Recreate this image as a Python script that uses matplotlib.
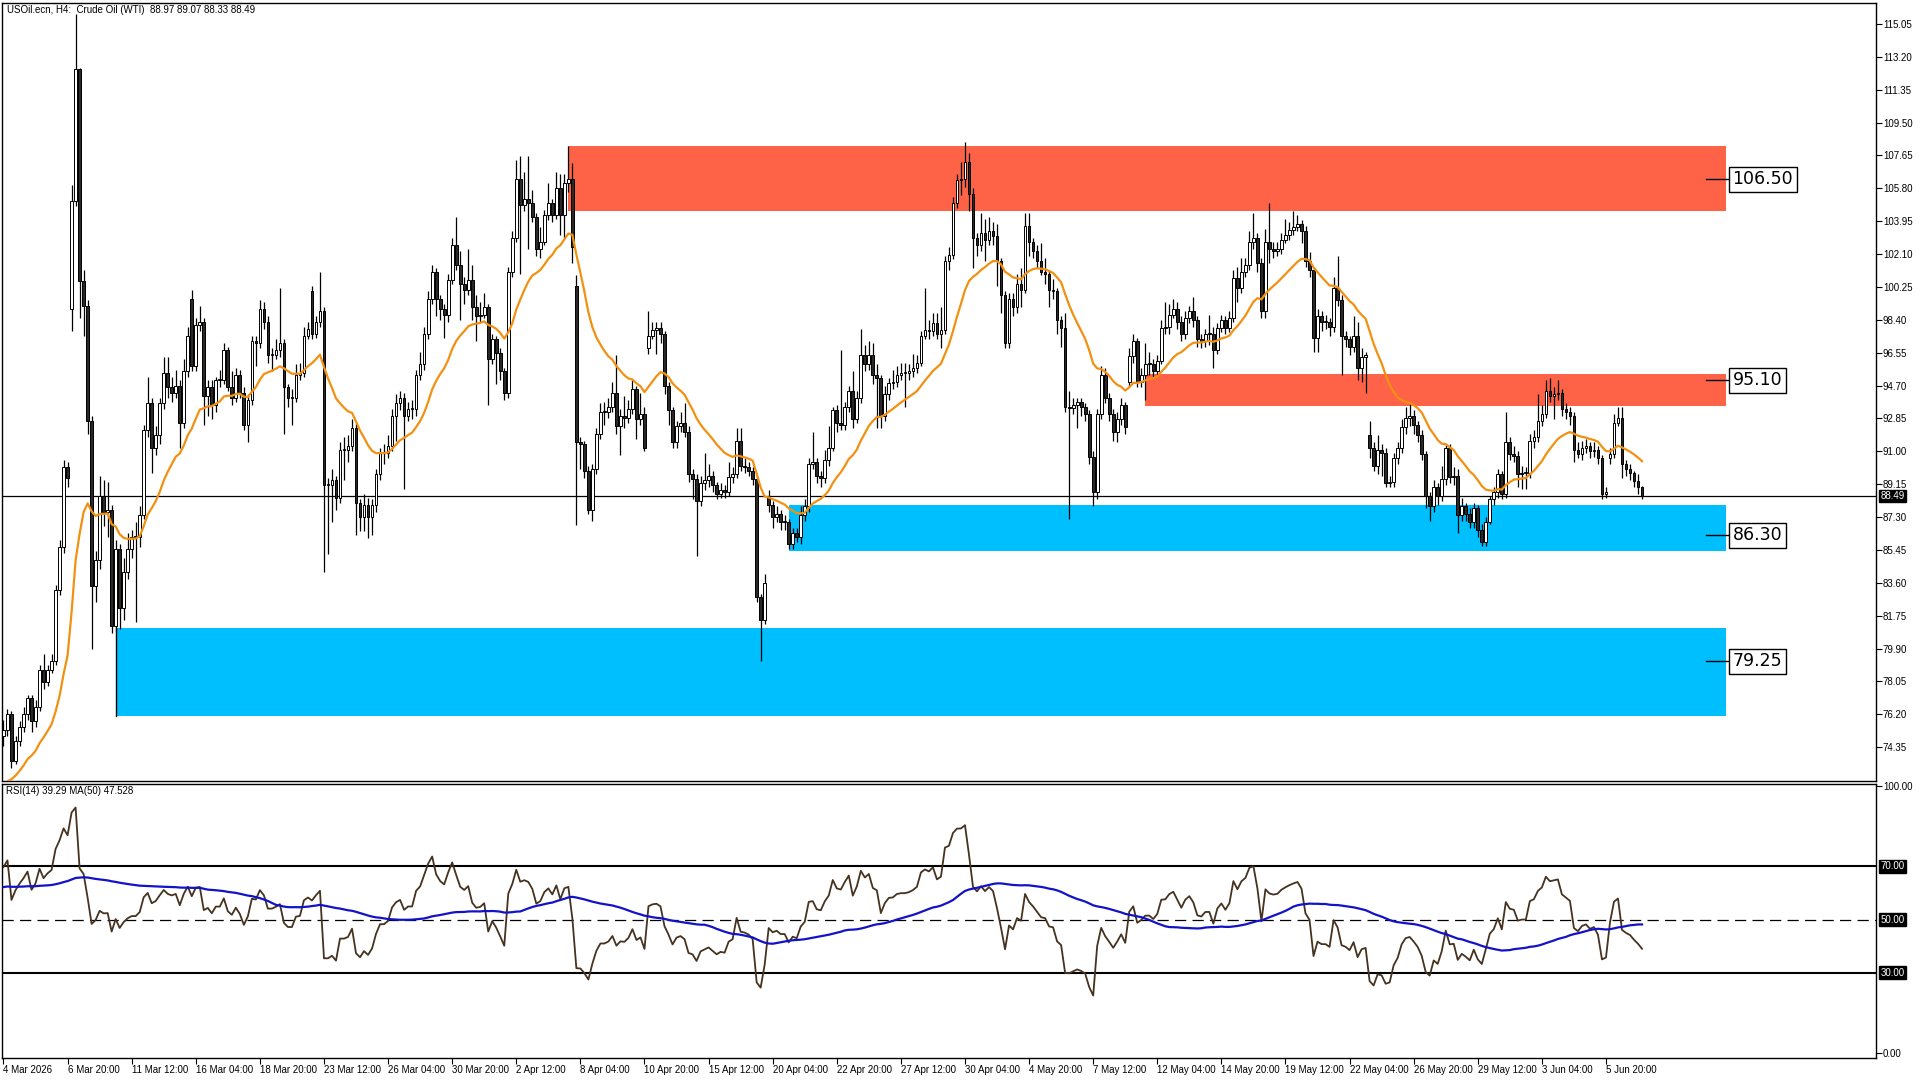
import numpy as np
import matplotlib
matplotlib.use("Agg")
import matplotlib.pyplot as plt
from matplotlib.transforms import blended_transform_factory

plt.rcParams['font.family'] = ['Liberation Sans', 'DejaVu Sans']

# ---------------- data (H4 bars) ----------------
first_open = 75.0
gap_opens = {17: 99.0, 47: 99.6, 77: 100.0, 143: 100.3, 161: 96.8,
             191: 88.5, 281: 94.9, 341: 91.9, 401: 90.6}

closes = [
    75.3, 76.2, 73.6, 74.7, 75.5, 76.2, 77.1, 75.8, 76.6, 78.7,
    78.0, 78.7, 79.2, 83.2, 85.6, 90.1, 89.5, 105.1, 112.5, 100.6,
    99.2, 92.7, 83.4, 84.9, 88.5, 87.6, 87.7, 81.2, 85.5, 82.2,
    84.2, 85.5, 86.2, 86.2, 87.4, 92.2, 93.7, 91.2, 91.9, 93.7,
    95.4, 94.6, 94.3, 94.7, 92.6, 95.5, 97.5, 95.8, 98.1, 98.3,
    94.1, 94.6, 93.6, 95.0, 95.0, 96.7, 94.6, 94.0, 95.3, 94.3,
    92.5, 93.9, 97.2, 97.1, 99.0, 98.3, 96.4, 96.4, 96.7, 97.1,
    94.6, 94.0, 94.0, 95.3, 95.4, 97.5, 97.9, 97.6, 98.3, 98.9,
    89.1, 89.1, 89.4, 88.4, 91.1, 91.1, 91.3, 92.3, 88.1, 87.3,
    88.0, 87.3, 88.0, 89.7, 90.9, 90.9, 91.3, 93.0, 93.7, 94.0,
    93.0, 93.4, 93.4, 95.3, 95.9, 97.6, 99.6, 101.1, 99.6, 99.0,
    98.7, 100.65, 102.6, 101.5, 100.4, 100.1, 100.65, 99.1, 98.6, 98.7,
    99.1, 96.2, 97.3, 96.55, 95.5, 94.3, 101.1, 103.0, 106.35, 104.85,
    105.2, 105.0, 104.2, 102.4, 102.8, 104.3, 104.95, 104.3, 105.8, 104.3,
    106.1, 106.35, 102.5, 91.5, 91.4, 89.9, 87.7, 90.0, 92.0, 93.2,
    93.2, 93.5, 94.3, 92.4, 93.0, 92.9, 93.4, 94.5, 92.8, 93.1,
    91.2, 97.5, 97.85, 97.95, 97.6, 94.7, 93.3, 91.5, 92.4, 92.6,
    92.1, 89.7, 89.45, 88.2, 89.2, 89.4, 89.6, 89.1, 88.6, 88.8,
    88.7, 89.55, 89.75, 91.6, 90.2, 90.1, 89.9, 89.45, 82.8, 81.5,
    83.6, 88.0, 87.3, 87.5, 87.0, 87.0, 85.8, 86.4, 86.2, 87.4,
    87.9, 90.3, 90.4, 89.6, 89.5, 90.5, 91.2, 93.3, 92.6, 92.5,
    93.5, 94.4, 92.8, 94.0, 96.45, 95.9, 96.45, 95.3, 95.1, 93.0,
    94.2, 94.85, 94.9, 95.3, 95.4, 95.4, 95.5, 95.7, 96.0, 97.5,
    97.85, 97.75, 98.2, 97.6, 97.85, 101.7, 102.05, 104.95, 106.25, 106.3,
    107.3, 105.5, 103.0, 102.6, 103.3, 102.9, 103.4, 103.1, 101.7, 99.8,
    97.1, 99.6, 99.1, 100.4, 100.1, 103.7, 102.8, 102.3, 101.7, 101.1,
    101.0, 100.1, 100.0, 98.4, 97.95, 93.5, 93.45, 93.6, 93.75, 93.5,
    93.1, 90.7, 88.7, 93.1, 95.3, 94.0, 93.1, 92.1, 92.8, 93.6,
    92.35, 96.35, 97.2, 94.9, 95.3, 95.9, 95.9, 95.5, 96.1, 97.95,
    98.0, 98.7, 99.0, 98.3, 97.6, 98.5, 98.9, 98.4, 97.3, 97.2,
    97.6, 97.6, 96.7, 97.95, 98.4, 97.95, 98.5, 100.75, 100.2, 101.1,
    101.5, 102.8, 103.0, 101.6, 98.9, 102.8, 102.4, 102.3, 102.4, 102.9,
    103.2, 103.45, 103.65, 103.8, 103.4, 101.7, 101.2, 97.4, 98.6, 98.3,
    98.3, 98.0, 100.2, 99.5, 97.5, 97.3, 96.9, 97.5, 95.7, 96.3,
    96.4, 91.2, 90.2, 91.1, 90.9, 89.2, 89.3, 90.6, 91.2, 92.35,
    92.9, 93.0, 92.5, 91.9, 90.85, 88.5, 87.9, 89.0, 88.5, 89.45,
    91.2, 89.55, 89.6, 87.4, 87.9, 87.5, 87.0, 87.8, 86.55, 85.9,
    87.0, 88.3, 88.7, 89.7, 88.6, 91.5, 90.85, 90.75, 89.7, 89.8,
    89.8, 91.6, 91.8, 92.7, 93.1, 94.4, 94.1, 94.2, 94.3, 93.4,
    93.2, 93.0, 91.1, 90.85, 91.2, 91.3, 91.0, 91.1, 90.6, 88.6,
    88.7, 90.85, 92.6, 92.9, 90.3, 90.0, 89.8, 89.35, 88.97, 88.49,
]

highs = [
    75.9, 76.5, 76.4, 75.0, 75.8, 76.6, 77.3, 77.3, 77.0, 79.0,
    79.6, 79.0, 79.6, 83.5, 86.0, 90.5, 90.4, 106.0, 115.6, 112.6,
    101.2, 99.5, 93.0, 85.4, 89.6, 89.4, 89.3, 88.0, 86.0, 85.8,
    85.0, 86.4, 86.6, 87.0, 87.9, 92.5, 95.2, 94.0, 92.4, 94.0,
    96.3, 96.3, 95.2, 95.6, 95.0, 96.2, 98.0, 100.1, 98.5, 99.2,
    98.5, 95.0, 95.0, 95.2, 95.6, 97.1, 96.9, 95.5, 95.7, 95.6,
    94.6, 94.2, 97.5, 97.5, 99.5, 99.4, 98.6, 96.8, 97.3, 100.2,
    97.3, 94.8, 94.5, 95.9, 96.0, 98.0, 98.3, 100.3, 98.6, 101.1,
    99.1, 89.5, 90.0, 89.6, 91.5, 91.8, 91.9, 92.8, 92.6, 88.3,
    88.6, 88.4, 88.3, 90.0, 91.2, 91.4, 91.9, 93.4, 94.2, 94.4,
    94.3, 93.8, 93.9, 95.6, 96.6, 98.0, 100.0, 101.5, 101.3, 99.8,
    99.3, 101.0, 103.0, 104.2, 102.3, 100.8, 102.4, 101.5, 99.8, 99.4,
    99.9, 99.3, 97.6, 97.5, 96.8, 95.7, 101.4, 103.4, 107.4, 107.6,
    106.7, 107.6, 105.7, 104.4, 103.6, 104.6, 106.1, 105.2, 106.7, 106.6,
    106.6, 108.2, 107.2, 100.9, 91.8, 91.6, 90.2, 90.3, 92.3, 93.7,
    93.8, 94.0, 94.9, 96.4, 93.4, 94.1, 93.9, 95.0, 94.7, 94.3,
    93.5, 98.9, 98.3, 98.3, 98.3, 97.8, 94.9, 93.5, 92.7, 93.2,
    93.7, 92.4, 90.0, 89.7, 89.6, 90.9, 90.3, 89.9, 89.3, 89.2,
    89.1, 90.4, 90.1, 92.3, 92.3, 90.6, 90.4, 90.1, 89.6, 83.0,
    84.1, 88.8, 88.2, 87.9, 87.7, 87.4, 87.2, 86.7, 86.7, 87.9,
    88.3, 90.6, 92.1, 90.6, 89.9, 91.1, 92.4, 93.5, 93.6, 96.7,
    93.8, 94.7, 95.5, 94.4, 97.9, 97.0, 97.2, 97.1, 95.9, 95.3,
    94.7, 95.1, 95.6, 95.8, 96.0, 96.0, 95.9, 96.5, 96.4, 97.8,
    100.2, 98.4, 98.8, 98.8, 99.1, 102.0, 102.5, 105.3, 106.6, 107.3,
    108.4, 107.8, 105.8, 103.3, 104.4, 104.1, 104.2, 103.9, 103.8, 101.9,
    100.0, 99.9, 99.9, 101.0, 101.3, 104.4, 104.4, 103.0, 102.6, 102.7,
    101.9, 101.2, 100.7, 100.2, 98.6, 98.8, 94.4, 94.0, 94.0, 94.0,
    93.7, 93.3, 91.0, 93.4, 95.8, 95.7, 94.3, 93.4, 93.2, 94.0,
    93.8, 96.8, 97.6, 97.4, 95.7, 97.1, 96.6, 96.2, 96.4, 98.4,
    99.4, 99.3, 99.6, 99.4, 98.6, 98.9, 99.2, 99.7, 98.6, 97.6,
    97.9, 98.7, 98.0, 98.2, 98.7, 98.6, 98.9, 101.2, 101.4, 101.9,
    101.9, 103.4, 104.4, 103.3, 101.9, 103.5, 105.0, 102.8, 102.8, 103.3,
    104.1, 103.9, 104.5, 104.3, 104.0, 103.7, 102.2, 101.4, 99.0, 98.9,
    98.7, 98.5, 100.8, 102.0, 99.8, 97.8, 97.5, 98.6, 98.3, 96.8,
    96.6, 92.7, 91.5, 91.9, 91.4, 91.2, 89.6, 90.9, 91.5, 92.8,
    93.5, 93.7, 93.3, 92.7, 92.2, 91.0, 88.7, 89.4, 89.2, 90.2,
    91.4, 91.4, 90.1, 90.0, 88.4, 88.1, 87.8, 88.1, 88.0, 86.9,
    87.3, 88.5, 89.0, 90.0, 89.9, 93.2, 91.8, 91.3, 91.0, 90.2,
    90.1, 92.0, 92.2, 94.2, 93.6, 95.0, 95.1, 94.6, 95.0, 94.5,
    93.7, 93.5, 93.2, 91.5, 91.6, 91.7, 91.5, 91.5, 91.3, 90.8,
    89.0, 91.2, 93.1, 93.5, 93.5, 90.5, 90.3, 89.9, 89.7, 89.07,
]

lows = [
    74.4, 75.0, 73.2, 73.4, 74.4, 75.2, 75.9, 75.2, 75.5, 76.4,
    77.6, 77.8, 78.5, 79.0, 82.9, 85.3, 89.0, 97.8, 104.8, 98.5,
    97.5, 92.0, 79.9, 82.5, 84.4, 86.8, 86.2, 80.8, 80.9, 81.0,
    81.5, 83.8, 85.0, 81.4, 85.6, 87.2, 91.8, 89.8, 90.8, 91.4,
    93.4, 94.0, 93.8, 94.0, 91.2, 92.3, 95.2, 95.5, 95.5, 97.8,
    92.5, 93.0, 92.8, 93.2, 94.6, 94.8, 94.4, 93.6, 93.8, 94.0,
    92.2, 91.5, 93.6, 95.8, 96.8, 97.9, 96.0, 95.5, 96.2, 96.3,
    92.0, 93.5, 92.5, 93.8, 95.0, 95.2, 97.3, 97.3, 97.4, 98.0,
    84.2, 85.2, 87.0, 87.7, 88.1, 89.4, 90.4, 91.0, 86.3, 86.5,
    86.5, 86.1, 86.3, 87.6, 89.4, 90.3, 90.6, 91.0, 91.6, 93.3,
    88.9, 92.7, 92.8, 93.0, 95.0, 95.6, 97.3, 99.3, 98.6, 98.4,
    97.4, 98.3, 100.4, 101.2, 98.4, 99.3, 99.8, 98.4, 97.2, 98.3,
    98.5, 93.6, 95.9, 94.8, 95.0, 93.9, 94.0, 100.8, 102.8, 101.0,
    104.5, 102.4, 103.9, 102.0, 101.9, 102.6, 104.0, 103.9, 104.1, 103.2,
    103.0, 105.6, 101.6, 86.85, 90.0, 89.5, 87.5, 87.1, 89.7, 91.7,
    92.5, 92.9, 93.2, 92.0, 90.8, 92.3, 92.6, 93.1, 91.7, 92.5,
    91.0, 96.5, 97.3, 96.5, 97.1, 94.2, 92.5, 91.2, 91.2, 92.1,
    91.8, 89.3, 88.3, 85.1, 87.9, 88.8, 89.0, 88.7, 88.3, 88.4,
    88.4, 88.5, 89.2, 89.5, 89.9, 89.8, 89.6, 89.1, 82.5, 79.2,
    81.3, 87.6, 86.7, 87.0, 86.6, 86.6, 85.5, 85.5, 85.9, 85.8,
    87.1, 87.6, 90.0, 89.2, 89.0, 89.2, 90.2, 91.0, 92.1, 92.2,
    92.2, 93.2, 92.3, 92.6, 93.7, 95.5, 95.6, 94.8, 92.3, 92.3,
    92.7, 93.9, 94.5, 94.6, 95.0, 93.5, 95.0, 95.2, 95.4, 95.8,
    97.3, 97.3, 97.5, 97.3, 96.8, 97.6, 101.2, 101.8, 104.7, 105.4,
    105.9, 104.5, 101.3, 102.0, 102.3, 101.7, 102.6, 102.6, 100.3, 98.8,
    96.8, 96.8, 98.6, 98.8, 99.1, 99.9, 102.0, 101.9, 101.3, 100.9,
    100.4, 99.1, 99.6, 97.6, 96.9, 93.2, 87.2, 93.1, 92.3, 93.0,
    92.7, 90.3, 87.9, 88.3, 92.8, 93.7, 92.7, 91.6, 91.5, 92.5,
    92.0, 94.6, 96.0, 94.6, 94.6, 93.9, 95.3, 95.1, 95.3, 95.9,
    97.6, 97.6, 98.5, 97.9, 97.2, 97.3, 98.2, 98.0, 96.9, 96.8,
    96.9, 97.0, 95.7, 96.5, 97.7, 97.6, 97.7, 98.3, 99.4, 99.9,
    100.8, 101.2, 102.4, 101.1, 98.5, 98.5, 101.6, 101.9, 102.0, 102.1,
    102.7, 102.9, 103.2, 103.4, 102.7, 101.4, 100.8, 96.6, 96.6, 97.8,
    97.9, 97.5, 97.7, 99.2, 95.3, 96.9, 96.4, 96.6, 95.0, 94.9,
    94.3, 90.6, 89.9, 89.7, 89.6, 89.0, 89.0, 89.0, 90.3, 90.9,
    92.0, 92.4, 92.0, 91.5, 90.5, 87.8, 87.1, 87.6, 88.0, 88.2,
    89.1, 89.2, 89.1, 86.4, 87.1, 87.1, 86.7, 86.7, 86.2, 85.7,
    85.7, 86.9, 88.0, 88.4, 88.3, 88.4, 90.5, 90.4, 89.0, 88.9,
    88.9, 89.5, 91.2, 91.5, 92.4, 92.9, 93.8, 92.8, 93.9, 93.0,
    92.8, 92.5, 90.4, 90.6, 90.5, 90.9, 90.6, 90.7, 90.3, 88.3,
    88.4, 90.3, 90.6, 92.4, 89.5, 89.6, 89.4, 89.0, 88.6, 88.33,
]

ema_period = 20
ema_seed = 71.7
rsi_period = 14
rsi_seed_gain = 0.55
rsi_seed_loss = 0.25
rsi_ma_period = 50
rsi_ma_seed = 62.0

# zones
zone_low = [104.53, 93.55, 85.39, 76.11]
zone_high = [108.18, 95.35, 87.98, 81.06]
zone_start = [141, 285, 196, 28]
zone_end = 430
zone_colors = ['#FF6347', '#FF6347', '#00BFFF', '#00BFFF']
zone_labels = [106.50, 95.10, 86.30, 79.25]
zone_label_y = [106.30, 95.00, 86.27, 79.20]

last_price = 88.49
price_ticks = [74.35, 76.20, 78.05, 79.90, 81.75, 83.60, 85.45, 87.30, 89.15,
               91.00, 92.85, 94.70, 96.55, 98.40, 100.25, 102.10, 103.95,
               105.80, 107.65, 109.50, 111.35, 113.20, 115.05]
time_labels = ['4 Mar 2026', '6 Mar 20:00', '11 Mar 12:00', '16 Mar 04:00',
               '18 Mar 20:00', '23 Mar 12:00', '26 Mar 04:00', '30 Mar 20:00',
               '2 Apr 12:00', '8 Apr 04:00', '10 Apr 20:00', '15 Apr 12:00',
               '20 Apr 04:00', '22 Apr 20:00', '27 Apr 12:00', '30 Apr 04:00',
               '4 May 20:00', '7 May 12:00', '12 May 04:00', '14 May 20:00',
               '19 May 12:00', '22 May 04:00', '26 May 20:00', '29 May 12:00',
               '3 Jun 04:00', '5 Jun 20:00']
bars_per_label = 16
title_text = 'USOil.ecn, H4:  Crude Oil (WTI)  88.97 89.07 88.33 88.49'
rsi_text = 'RSI(14) 39.29 MA(50) 47.528'

# ---------------- derived series ----------------
c = np.array(closes, float)
h = np.array(highs, float)
l = np.array(lows, float)
n = len(c)
o = np.empty(n)
o[0] = first_open
o[1:] = c[:-1]
for k, v in gap_opens.items():
    o[k] = v
h = np.maximum(h, np.maximum(o, c))
l = np.minimum(l, np.minimum(o, c))
x = np.arange(n)

alpha = 2.0 / (ema_period + 1)
ema = np.empty(n)
prev = ema_seed
for i in range(n):
    prev = prev + alpha * (c[i] - prev)
    ema[i] = prev

rsi = np.empty(n)
ag, al = rsi_seed_gain, rsi_seed_loss
pc = first_open
for i in range(n):
    d = c[i] - pc
    pc = c[i]
    ag = (ag * (rsi_period - 1) + max(d, 0)) / rsi_period
    al = (al * (rsi_period - 1) + max(-d, 0)) / rsi_period
    rsi[i] = 100 - 100 / (1 + ag / al)
padded = np.concatenate([np.full(rsi_ma_period - 1, rsi_ma_seed), rsi])
rsi_ma = np.convolve(padded, np.ones(rsi_ma_period) / rsi_ma_period, 'valid')

# ---------------- figure ----------------
W, H = 1920, 1080
fig = plt.figure(figsize=(19.2, 10.8), dpi=100)
fig.patch.set_facecolor('white')


def frame(x0, y0, x1, y1):
    return [x0 / W, 1 - y1 / H, (x1 - x0) / W, (y1 - y0) / H]


ax = fig.add_axes(frame(2, 3, 1876, 781))
axr = fig.add_axes(frame(2, 784, 1876, 1058))
xlim = (-0.37, 467.4)

# zones
for lo, hi, st, col in zip(zone_low, zone_high, zone_start, zone_colors):
    ax.fill_between([st, zone_end], lo, hi, color=col, lw=0, zorder=1)
ax.plot([zone_start[3], zone_start[3]], [zone_low[3], zone_high[3]], color='black', lw=1, zorder=2)

# last price line
ax.axhline(last_price, color='black', lw=0.9, zorder=2)

# candles
up = c >= o
ax.vlines(x, l, h, color='black', lw=0.9, zorder=3)
bot = np.minimum(o, c)
bh = np.maximum(np.abs(c - o), 0.06)
ax.bar(x[up], bh[up], bottom=bot[up], width=0.68, color='white', edgecolor='black', linewidth=0.7, zorder=4)
ax.bar(x[~up], bh[~up], bottom=bot[~up], width=0.68, color='#2b2724', edgecolor='black', linewidth=0.7, zorder=4)

# EMA
ax.plot(x, ema, color='#F29111', lw=1.6, zorder=5)

# zone labels
for val, yv in zip(zone_labels, zone_label_y):
    ax.plot([425.0, 430.8], [yv, yv], color='black', lw=1, zorder=6)
    ax.text(431.6, yv, f'{val:.2f}', ha='left', va='center', fontsize=12.5,
            family='DejaVu Sans', color='black', zorder=7,
            bbox=dict(boxstyle='square,pad=0.2', fc='white', ec='black', lw=1))

ax.set_xlim(*xlim)
ax.set_ylim(72.45, 116.23)
ax.set_xticks([])
ax.yaxis.tick_right()
ax.set_yticks(price_ticks)
ax.set_yticklabels([f'{t:.2f}' for t in price_ticks])
ax.tick_params(axis='y', direction='out', length=4, width=0.8, pad=1, labelsize=7, colors='black')
for sp in ax.spines.values():
    sp.set_color('black')
    sp.set_linewidth(1)

trans = blended_transform_factory(ax.transAxes, ax.transData)
ax.text(1.0025, last_price, f'{last_price:.2f}', transform=trans, ha='left', va='center',
        fontsize=7, color='white', zorder=10,
        bbox=dict(boxstyle='square,pad=0.15', fc='black', ec='black'))

# ---------------- RSI panel ----------------
axr.plot(x, rsi, color='#45321f', lw=1.3, zorder=3)
axr.plot(x, rsi_ma, color='#1212c8', lw=1.6, zorder=4)
axr.axhline(70, color='black', lw=1.5, zorder=2)
axr.axhline(30, color='black', lw=1.5, zorder=2)
axr.axhline(50, color='black', lw=0.9, ls=(0, (9, 5)), zorder=2)
axr.set_xlim(*xlim)
axr.set_ylim(-1.87, 100.75)
axr.yaxis.tick_right()
axr.set_yticks([0, 100])
axr.set_yticklabels(['0.00', '100.00'])
axr.tick_params(axis='y', direction='out', length=4, width=0.8, pad=1, labelsize=7)
tr2 = blended_transform_factory(axr.transAxes, axr.transData)
for lev in (70, 50, 30):
    axr.text(1.0025, lev, f'{lev:.2f}', transform=tr2, ha='left', va='center', fontsize=7,
             color='white', bbox=dict(boxstyle='square,pad=0.15', fc='black', ec='black'))
axr.set_xticks([bars_per_label * k for k in range(len(time_labels))])
axr.set_xticklabels(time_labels)
axr.tick_params(axis='x', direction='out', length=4, width=0.8, pad=1, labelsize=7)
for lbl in axr.get_xticklabels():
    lbl.set_horizontalalignment('left')
for sp in axr.spines.values():
    sp.set_color('black')
    sp.set_linewidth(1)

fig.text(7 / W, 1 - 10 / H, title_text, fontsize=7, va='center', ha='left')
fig.text(6 / W, 1 - 791 / H, rsi_text, fontsize=7, va='center', ha='left')

fig.savefig('out.png', dpi=100, facecolor='white')
